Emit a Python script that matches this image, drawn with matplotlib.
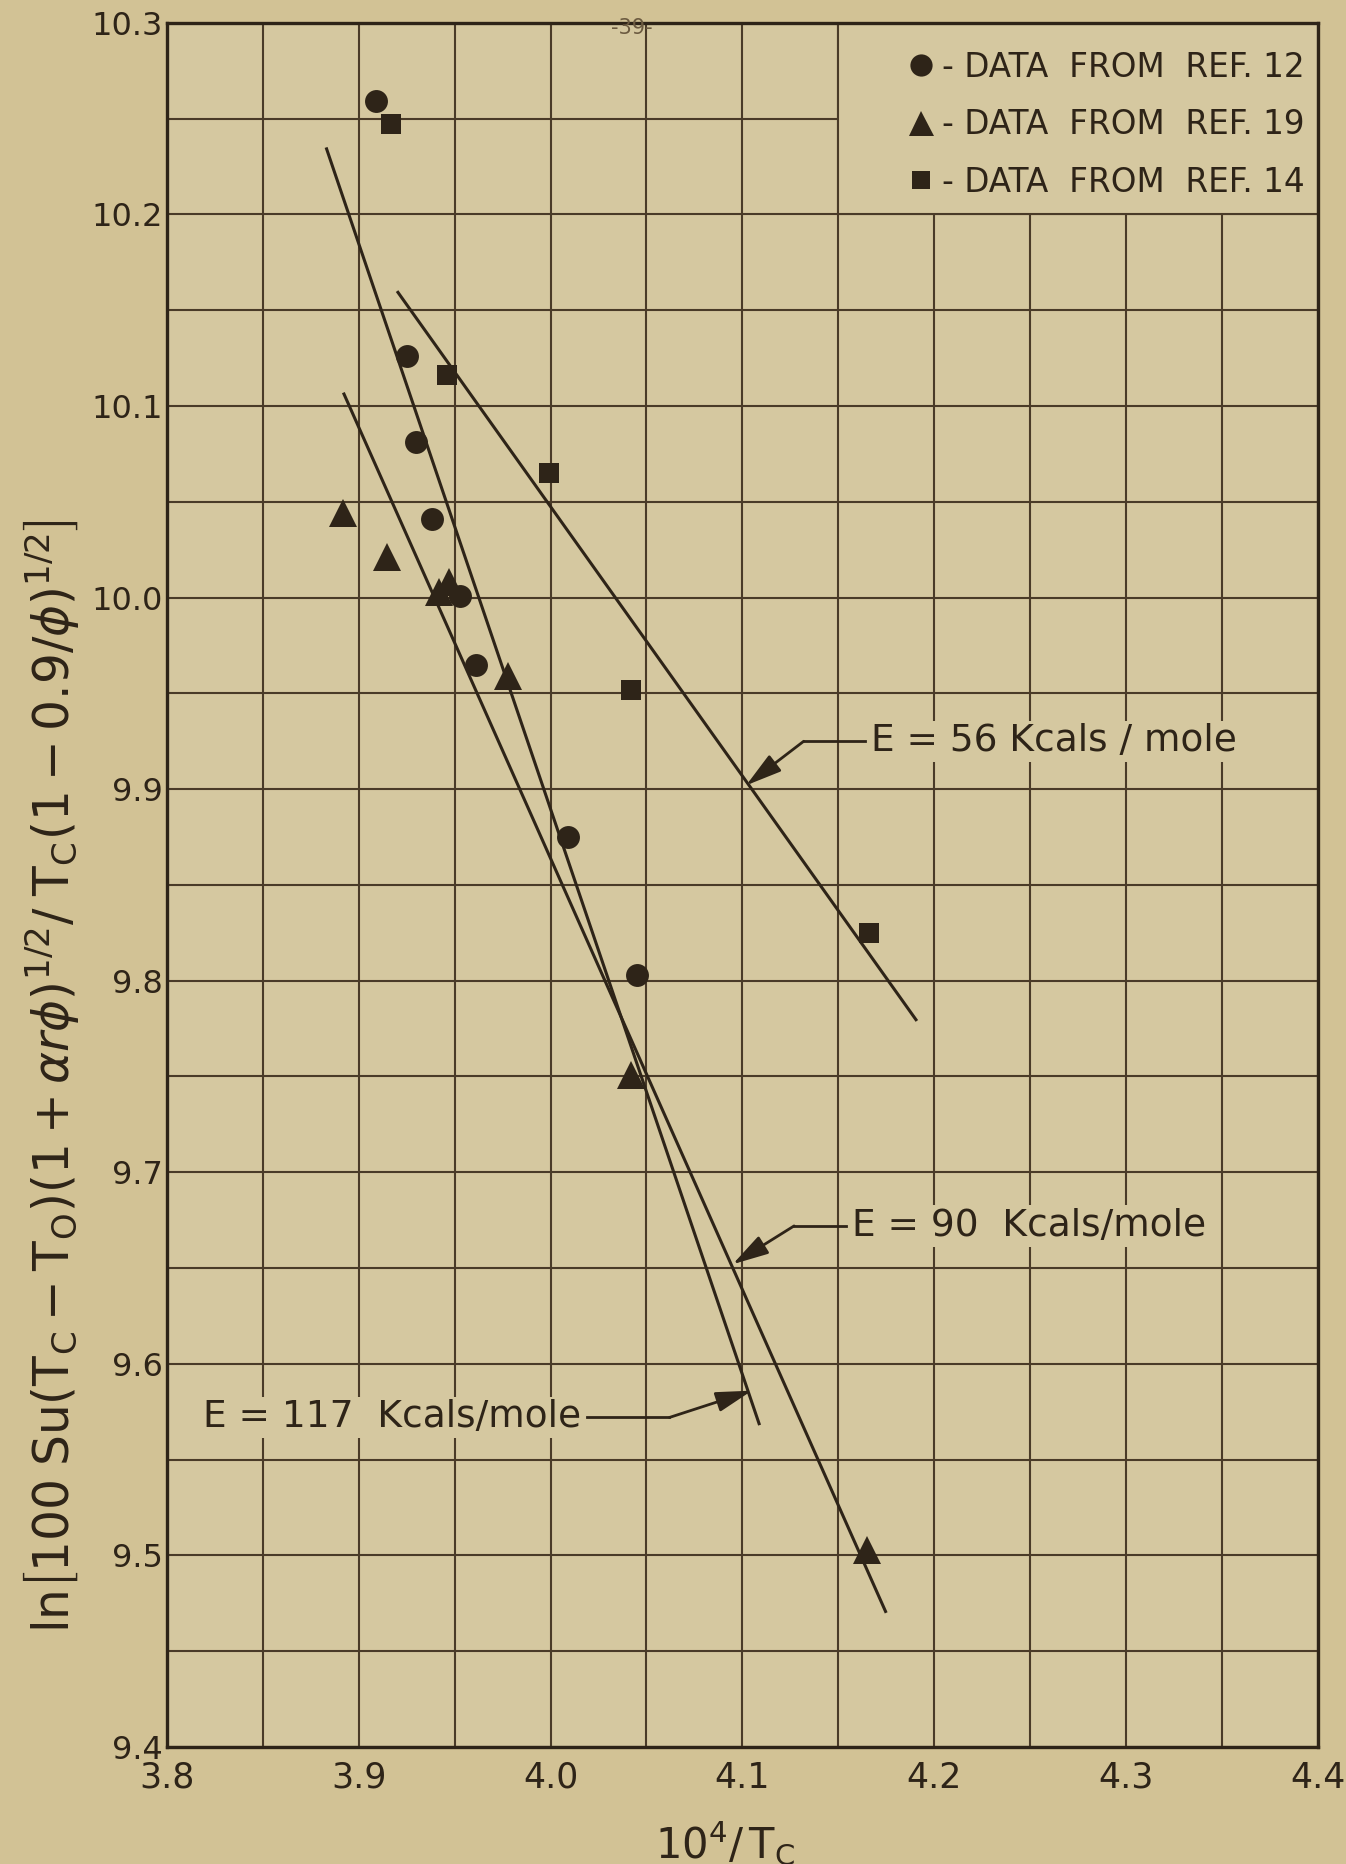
import matplotlib
matplotlib.use("Agg")
import matplotlib.pyplot as plt
from matplotlib.patches import Rectangle
from matplotlib.lines import Line2D

# ---------------- data ----------------
ref12_x = [3.909, 3.925, 3.930, 3.938, 3.953, 3.961, 4.009, 4.045]
ref12_y = [10.259, 10.126, 10.081, 10.041, 10.001, 9.965, 9.875, 9.803]

ref19_x = [3.892, 3.915, 3.942, 3.947, 3.978, 4.042, 4.165]
ref19_y = [10.044, 10.021, 10.003, 10.008, 9.959, 9.751, 9.503]

ref14_x = [3.917, 3.946, 3.999, 4.042, 4.166]
ref14_y = [10.247, 10.116, 10.065, 9.952, 9.825]

# fitted straight lines (end points)
fit56_x = [3.920, 4.191]
fit56_y = [10.160, 9.779]
fit90_x = [3.892, 4.175]
fit90_y = [10.107, 9.470]
fit117_x = [3.883, 4.109]
fit117_y = [10.235, 9.568]

x_ticks = [3.8, 3.9, 4.0, 4.1, 4.2, 4.3, 4.4]
x_tick_labels = ["3.8", "3.9", "4.0", "4.1", "4.2", "4.3", "4.4"]
y_ticks = [9.4, 9.5, 9.6, 9.7, 9.8, 9.9, 10.0, 10.1, 10.2, 10.3]
y_tick_labels = ["9.4", "9.5", "9.6", "9.7", "9.8", "9.9", "10.0", "10.1", "10.2", "10.3"]

legend_labels = ["- DATA  FROM  REF. 12", "- DATA  FROM  REF. 19", "- DATA  FROM  REF. 14"]
# ---------------------------------------------------------------

BG_FIG = "#d2c295"
BG_AX = "#d5c8a0"
INK = "#2e2418"
GRID = "#4a3b28"

plt.rcParams["font.family"] = ["DejaVu Sans"]
plt.rcParams["mathtext.fontset"] = "dejavusans"

fig = plt.figure(figsize=(13.46, 18.64), dpi=100, facecolor=BG_FIG)
ax = fig.add_axes([0.124, 0.0628, 0.855, 0.9249])
ax.set_facecolor(BG_AX)

ax.set_xlim(3.8, 4.4)
ax.set_ylim(9.4, 10.3)
ax.set_xticks(x_ticks)
ax.set_xticklabels(x_tick_labels)
ax.set_yticks(y_ticks)
ax.set_yticklabels(y_tick_labels)
ax.set_xticks([3.85, 3.95, 4.05, 4.15, 4.25, 4.35], minor=True)
ax.set_yticks([9.45, 9.55, 9.65, 9.75, 9.85, 9.95, 10.05, 10.15, 10.25], minor=True)
ax.tick_params(which="both", length=0, colors=INK)
ax.tick_params(axis="x", labelsize=25, pad=10)
ax.tick_params(axis="y", labelsize=23, pad=3)
ax.set_axisbelow(True)
ax.grid(which="both", color=GRID, linewidth=1.5)
for s in ax.spines.values():
    s.set_color(INK)
    s.set_linewidth(2.4)

# blank panel for the legend (grid interrupted)
ax.add_patch(Rectangle((4.15, 10.2), 0.25, 0.1, facecolor=BG_AX,
                       edgecolor=GRID, linewidth=1.5, zorder=1))

# fit lines
for xs, ys in [(fit56_x, fit56_y), (fit90_x, fit90_y), (fit117_x, fit117_y)]:
    ax.plot(xs, ys, color=INK, linewidth=2.2, zorder=2, solid_capstyle="butt")

# data points
ax.plot(ref12_x, ref12_y, "o", color=INK, markersize=16.5, markeredgewidth=0, zorder=3)
ax.plot(ref19_x, ref19_y, "^", color=INK, markersize=20, markeredgewidth=0, zorder=3)
ax.plot(ref14_x, ref14_y, "s", color=INK, markersize=14, markeredgewidth=0, zorder=3)

# legend
handles = [
    Line2D([], [], linestyle="none", marker="o", color=INK, markersize=16, markeredgewidth=0),
    Line2D([], [], linestyle="none", marker="^", color=INK, markersize=18, markeredgewidth=0),
    Line2D([], [], linestyle="none", marker="s", color=INK, markersize=13, markeredgewidth=0),
]
leg = ax.legend(handles, legend_labels, loc="upper right", bbox_to_anchor=(1.013, 1.0),
                frameon=False, fontsize=23.5, handlelength=0.7, handletextpad=0.3,
                labelspacing=0.75, borderpad=0.75, borderaxespad=0.1)
for t in leg.get_texts():
    t.set_color(INK)
leg.set_zorder(5)

# annotations with leader + arrow
def label(text, text_xy, bend_x, tip_xy, ha):
    ax.text(text_xy[0], text_xy[1], text, fontsize=27, color=INK, ha=ha, va="center",
            zorder=4, bbox=dict(facecolor=BG_AX, edgecolor="none", pad=2))
    start_x = text_xy[0] - 0.003 if ha == "left" else text_xy[0] + 0.003
    ax.plot([start_x, bend_x], [text_xy[1], text_xy[1]], color=INK, linewidth=2, zorder=4)
    ax.annotate("", xy=tip_xy, xytext=(bend_x, text_xy[1]),
                arrowprops=dict(arrowstyle="-|>,head_length=1.0,head_width=0.28",
                                mutation_scale=22, color=INK, lw=2,
                                shrinkA=0, shrinkB=0), zorder=4)

label("E = 56 Kcals / mole", (4.167, 9.925), 4.132, (4.102, 9.902), "left")
label("E = 90  Kcals/mole", (4.157, 9.672), 4.127, (4.095, 9.652), "left")
label("E = 117  Kcals/mole", (4.016, 9.572), 4.062, (4.105, 9.586), "right")

# axis titles
fig.text(0.5386, 0.0113, r"$\mathrm{10^4/\,T_C}$", fontsize=30, color=INK,
         ha="center", va="center")
fig.text(0.038, 0.4227,
         r"$\mathrm{ln}\left[\mathrm{100\;Su}(\mathrm{T_C-T_O})(1+\alpha r\phi)^{1/2}/\;\mathrm{T_C}(1-0.9/\phi)^{1/2}\right]$",
         fontsize=35, color=INK, rotation=90, ha="center", va="center")

# page number
fig.text(632 / 1346, 1 - 28 / 1864, "-39-", fontsize=15, color="#6b5a40",
         ha="center", va="center")

fig.savefig("out.png", dpi=100, facecolor=BG_FIG)
